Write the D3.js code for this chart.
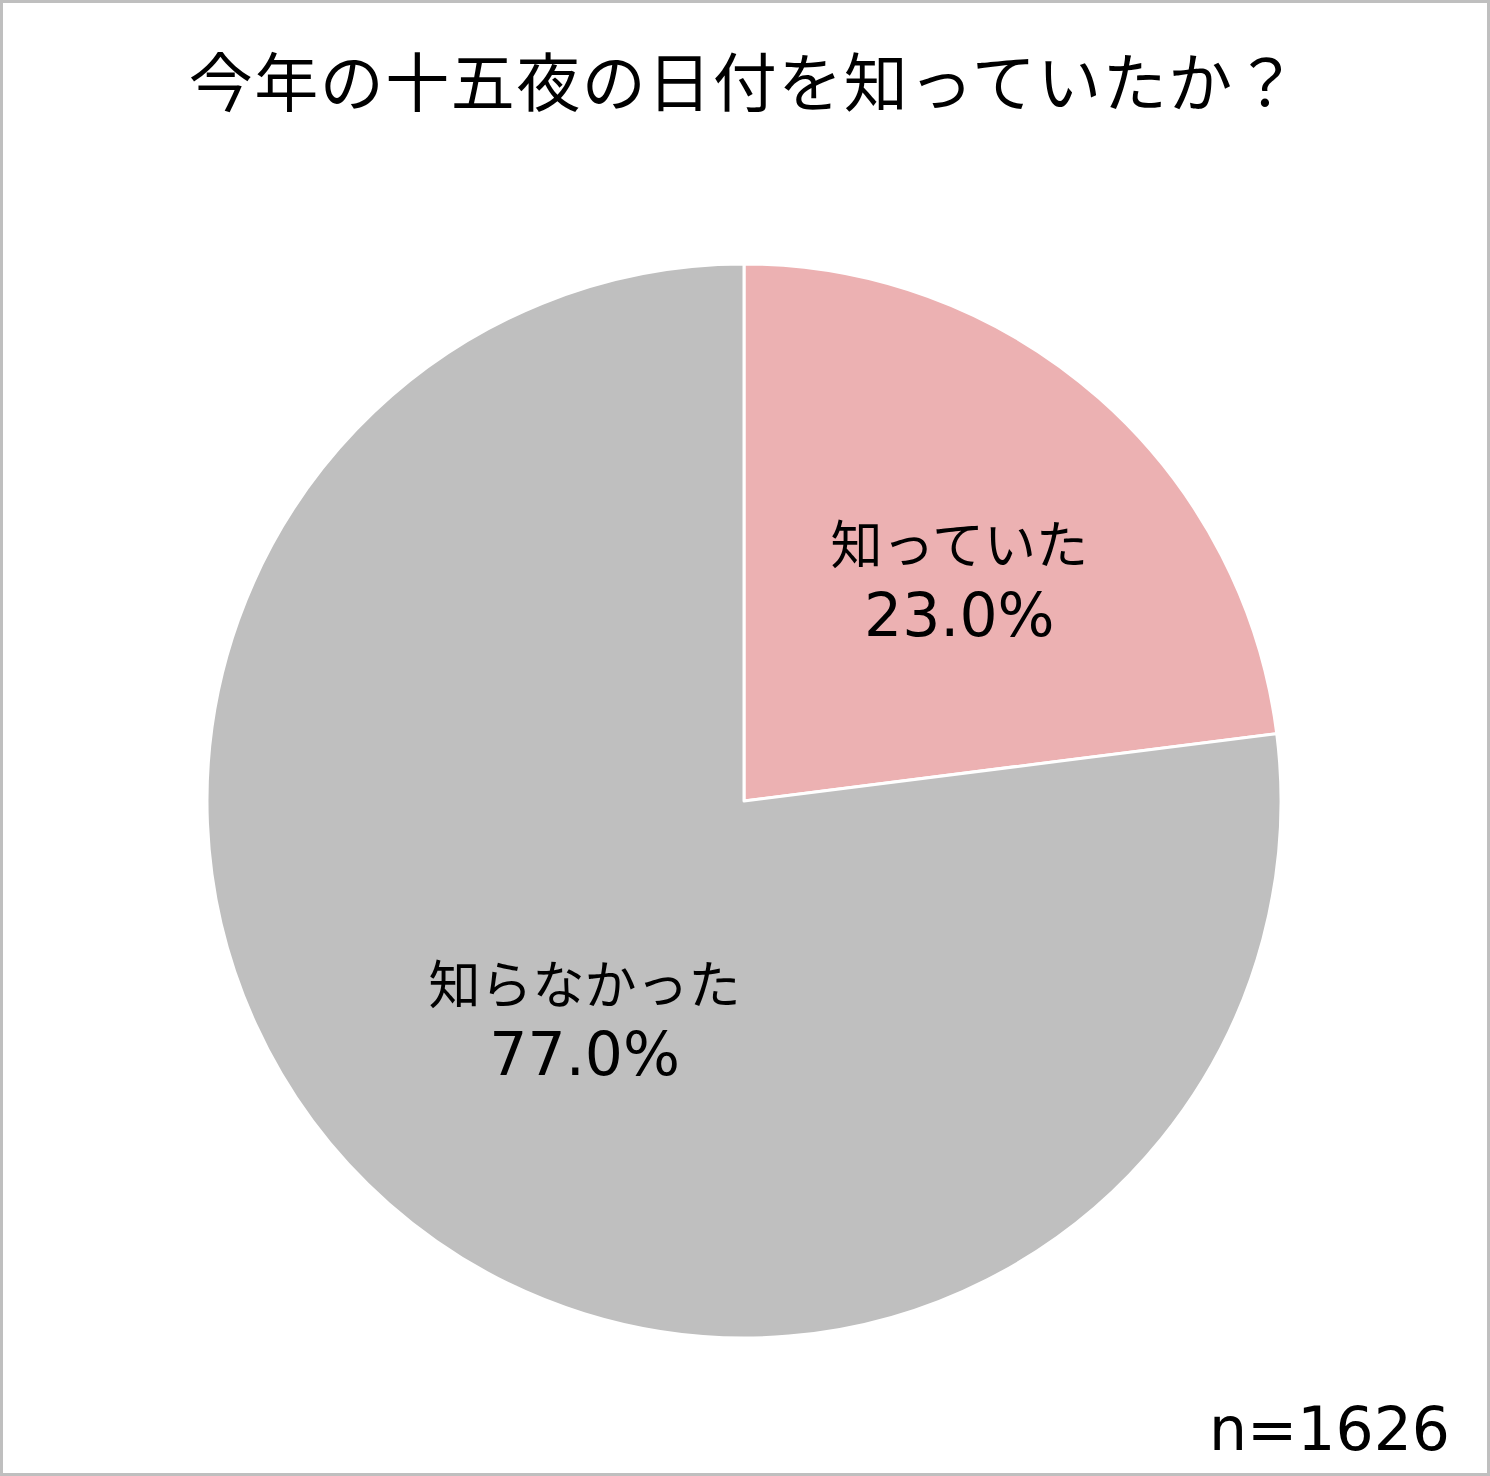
<!DOCTYPE html>
<html>
<head>
<meta charset="utf-8">
<script src="https://cdn.jsdelivr.net/npm/d3@7"></script>
<style>
  html, body { margin: 0; padding: 0; background: #fff; }
  svg { display: block; }
  text { font-family: "Noto Sans CJK JP", "Noto Sans", sans-serif; fill: #000; }
  .num { font-family: "DejaVu Sans", "Noto Sans CJK JP", sans-serif; }
</style>
</head>
<body>
<svg id="chart" width="1490" height="1476"></svg>
<script>
const title = "今年の十五夜の日付を知っていたか？";
const categories = ["知っていた", "知らなかった"];
const values = [23.0, 77.0];
const colors = ["#ecb1b2", "#bfbfbf"];
const sampleNote = "n=1626";

const W = 1490, H = 1476;
const cx = 744, cy = 801, R = 537;
// label placement (radius fraction, angle nudge in radians) per slice
const labelLayout = [
  { rf: 0.572, da: 0.054, dy2: 54 },
  { rf: 0.508, da: -0.0986, dy2: 53 }
];

const svg = d3.select("#chart");

svg.append("rect")
  .attr("x", 1.5).attr("y", 1.5)
  .attr("width", W - 3).attr("height", H - 3)
  .attr("fill", "#fff")
  .attr("stroke", "#bfbfbf")
  .attr("stroke-width", 3);

svg.append("text")
  .attr("x", cx).attr("y", 106)
  .attr("text-anchor", "middle")
  .attr("font-size", 64)
  .attr("letter-spacing", 1.5)
  .text(title);

const pie = d3.pie().sort(null).value(d => d)(values);
const arc = d3.arc().innerRadius(0).outerRadius(R);

const g = svg.append("g").attr("transform", `translate(${cx},${cy})`);

g.selectAll("path.slice")
  .data(pie)
  .join("path")
  .attr("class", "slice")
  .attr("d", arc)
  .attr("fill", (d, i) => colors[i])
  .attr("stroke", "#fff")
  .attr("stroke-width", 3)
  .attr("stroke-linejoin", "round");

const labels = g.selectAll("g.lab")
  .data(pie)
  .join("g")
  .attr("class", "lab")
  .attr("transform", (d, i) => {
    const L = labelLayout[i];
    const a = (d.startAngle + d.endAngle) / 2 + L.da;
    const r = R * L.rf;
    return `translate(${r * Math.sin(a)},${-r * Math.cos(a)})`;
  });

labels.append("text")
  .attr("text-anchor", "middle")
  .attr("y", -18)
  .attr("font-size", 52)
  .text((d, i) => categories[i]);

labels.append("text")
  .attr("class", "num")
  .attr("text-anchor", "middle")
  .attr("y", (d, i) => labelLayout[i].dy2)
  .attr("font-size", 60)
  .text(d => d3.format(".1f")(d.data) + "%");

svg.append("text")
  .attr("class", "num")
  .attr("x", 1450).attr("y", 1450)
  .attr("text-anchor", "end")
  .attr("font-size", 60)
  .text(sampleNote);
</script>
</body>
</html>
